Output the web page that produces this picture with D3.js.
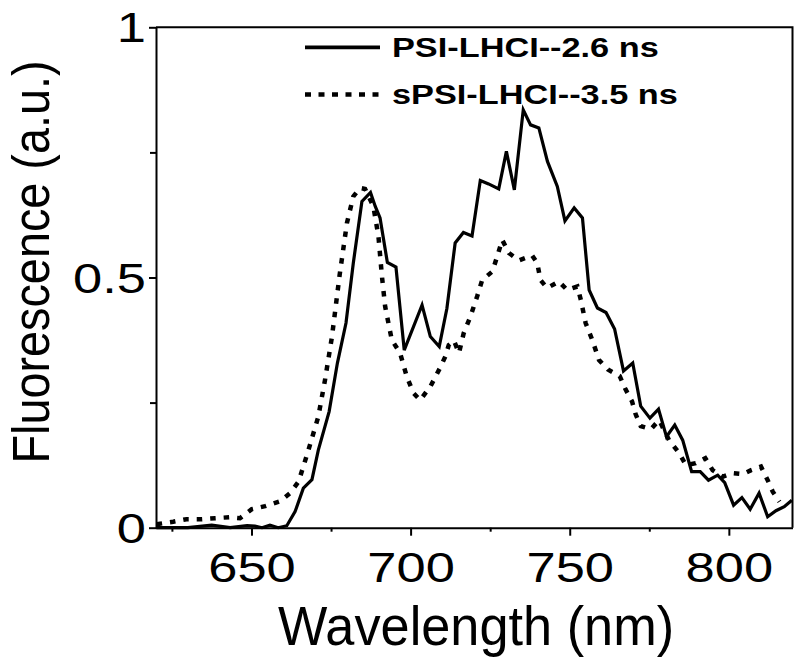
<!DOCTYPE html>
<html>
<head>
<meta charset="utf-8">
<script src="https://cdn.jsdelivr.net/npm/d3@7"></script>
<style>
  html, body { margin: 0; padding: 0; background: #fff; }
  svg { display: block; }
  text { font-family: "Liberation Sans", Arial, Helvetica, sans-serif; fill: #000; }
</style>
</head>
<body>
<svg id="chart" width="796" height="660"></svg>
<script>
// ---- data ----
const seriesNames = ["PSI-LHCI--2.6 ns", "sPSI-LHCI--3.5 ns"];

const wlPSI = [620, 630, 637.5, 643.3, 648.6, 651.1, 653.3, 655.8, 658.4, 661.1,
  663.7, 666.3, 669.0, 671.0, 674.4, 677.0, 679.7, 682.0, 684.7, 687.4,
  688.9, 690.4, 692.7, 695.4, 698.0, 703.6, 706.2, 709.0, 711.4, 714.0,
  716.6, 719.3, 721.9, 724.5, 727.7, 730.1, 732.6, 735.4, 737.7, 740.3,
  743.0, 746.1, 748.5, 751.4, 754.0, 756.1, 758.7, 761.4, 764.1, 766.9,
  769.8, 772.3, 775.2, 777.9, 780.4, 783.0, 785.5, 788.3, 791.0, 793.6,
  796.5, 798.7, 801.5, 804.1, 806.7, 809.5, 812.2, 814.8, 817.4, 819.8];
const valPSI = [0, 0, 0.005, 0, 0.004, 0.003, 0, 0.005, 0, 0.004,
  0.032, 0.079, 0.096, 0.155, 0.232, 0.329, 0.409, 0.529, 0.652, 0.670,
  0.642, 0.619, 0.530, 0.521, 0.355, 0.445, 0.382, 0.362, 0.438, 0.569,
  0.590, 0.583, 0.694, 0.687, 0.677, 0.752, 0.675, 0.835, 0.805, 0.799,
  0.732, 0.682, 0.613, 0.639, 0.619, 0.475, 0.439, 0.430, 0.397, 0.313,
  0.329, 0.243, 0.219, 0.237, 0.182, 0.205, 0.175, 0.112, 0.112, 0.095,
  0.105, 0.090, 0.045, 0.060, 0.037, 0.069, 0.022, 0.034, 0.042, 0.055];

const wlSPSI = [620.2, 625.4, 629.6, 634.3, 638.6, 643.3, 646.4, 650.1, 654.3, 659.0,
  662.1, 664.8, 667.9, 671.0, 673.1, 675.3, 677.7, 680.0, 682.0, 684.1,
  685.7, 688.3, 689.9, 691.0, 692.0, 694.1, 696.7, 698.8, 700.9, 703.0,
  706.2, 709.3, 710.9, 712.0, 713.6, 715.2, 716.7, 718.8, 720.9, 722.5,
  725.7, 727.2, 728.8, 730.9, 734.0, 738.2, 739.8, 740.8, 742.9, 746.6,
  749.2, 752.4, 753.5, 755.0, 757.1, 759.2, 762.0, 765.7, 767.5, 769.6,
  770.7, 772.3, 775.5, 778.1, 781.2, 784.4, 786.5, 789.6, 792.6, 794.9,
  798.1, 801.2, 804.4, 807.0, 810.1, 812.2, 813.8, 815.9];
const valSPSI = [0.007, 0.012, 0.017, 0.017, 0.019, 0.021, 0.019, 0.037, 0.043, 0.053,
  0.069, 0.092, 0.155, 0.222, 0.295, 0.382, 0.505, 0.609, 0.662, 0.679,
  0.677, 0.642, 0.582, 0.502, 0.442, 0.375, 0.349, 0.302, 0.269, 0.255,
  0.282, 0.320, 0.342, 0.365, 0.374, 0.349, 0.389, 0.422, 0.462, 0.495,
  0.512, 0.542, 0.575, 0.549, 0.534, 0.544, 0.529, 0.495, 0.479, 0.492,
  0.475, 0.482, 0.455, 0.409, 0.375, 0.335, 0.316, 0.303, 0.277, 0.252,
  0.227, 0.203, 0.197, 0.215, 0.175, 0.149, 0.125, 0.129, 0.139, 0.115,
  0.102, 0.109, 0.107, 0.115, 0.122, 0.095, 0.072, 0.052];

const xMajorTicks = [650, 700, 750, 800];
const xMinorTicks = [625, 675, 725, 775];
const yMajorTicks = [0, 0.5, 1];
const yMinorTicks = [0.25, 0.75];
const yTickLabels = ["0", "0.5", "1"];

// ---- layout ----
const svg = d3.select("#chart");
const L = 156, R = 792.5, T = 27.3, B = 527.7;
const x = d3.scaleLinear().domain([620, 820]).range([L, R]);
const y = d3.scaleLinear().domain([0, 1]).range([B, T]);

const TICK_FS = 43, TICK_SX = 1.22;

// frame (top & right)
svg.append("path")
  .attr("d", `M${L},${T}H${R}V${B}`)
  .attr("fill", "none").attr("stroke", "#000").attr("stroke-width", 2);

// x axis
const gx = svg.append("g").attr("transform", `translate(0,${B})`);
gx.call(d3.axisBottom(x).tickValues(xMajorTicks).tickSize(8).tickSizeOuter(0).tickPadding(12));
gx.select(".domain").attr("stroke-width", 2);
gx.selectAll(".tick line").attr("stroke-width", 2);
gx.selectAll(".tick text")
  .attr("font-size", TICK_FS)
  .attr("font-family", null)
  .attr("dy", null)
  .attr("y", 54.5)
  .attr("transform", `scale(${TICK_SX},1)`);
const gxm = svg.append("g").attr("transform", `translate(0,${B})`);
gxm.call(d3.axisBottom(x).tickValues(xMinorTicks).tickSize(4).tickFormat(""));
gxm.select(".domain").remove();
gxm.selectAll(".tick line").attr("stroke-width", 2);

// y axis
const gy = svg.append("g").attr("transform", `translate(${L},0)`);
gy.call(d3.axisLeft(y).tickValues(yMajorTicks).tickSize(7).tickSizeOuter(0).tickPadding(9)
  .tickFormat((d, i) => yTickLabels[i]));
gy.select(".domain").attr("stroke-width", 2);
gy.selectAll(".tick line").attr("stroke-width", 2);
gy.selectAll(".tick text")
  .attr("font-size", TICK_FS)
  .attr("font-family", null)
  .attr("x", -10 / TICK_SX)
  .attr("dy", "0.34em")
  .attr("transform", `scale(${TICK_SX},1)`);
const gym = svg.append("g").attr("transform", `translate(${L},0)`);
gym.call(d3.axisLeft(y).tickValues(yMinorTicks).tickSize(6).tickFormat(""));
gym.select(".domain").remove();
gym.selectAll(".tick line").attr("stroke-width", 2);

// axis titles
svg.append("text")
  .attr("text-anchor", "middle")
  .attr("font-size", 56)
  .attr("transform", `translate(476,645) scale(0.934,1)`)
  .text("Wavelength (nm)");
svg.append("text")
  .attr("text-anchor", "middle")
  .attr("font-size", 52)
  .attr("transform", `translate(49,262) rotate(-90) scale(0.9,1)`)
  .text("Fluorescence (a.u.)");

// lines
const line = d3.line().x(d => x(d[0])).y(d => y(d[1]));
const psi = wlPSI.map((w, i) => [w, valPSI[i]]);
const spsi = wlSPSI.map((w, i) => [w, valSPSI[i]]);

svg.append("path").datum(spsi)
  .attr("d", line).attr("fill", "none").attr("stroke", "#000")
  .attr("stroke-width", 4.5).attr("stroke-dasharray", "5.5,8")
  .attr("stroke-linejoin", "miter");
svg.append("path").datum(psi)
  .attr("d", line).attr("fill", "none").attr("stroke", "#000")
  .attr("stroke-width", 3.2).attr("stroke-linejoin", "miter");

// legend
const legRows = [
  { name: seriesNames[0], dash: null, sw: 3.6, ly: 47.4, ty: 57 },
  { name: seriesNames[1], dash: "6,7.5", sw: 4.5, ly: 94.6, ty: 103.5 }
];
const leg = svg.append("g");
legRows.forEach(r => {
  leg.append("line").attr("x1", 305).attr("x2", 380).attr("y1", r.ly).attr("y2", r.ly)
    .attr("stroke", "#000").attr("stroke-width", r.sw)
    .attr("stroke-dasharray", r.dash);
  leg.append("text")
    .attr("font-weight", "bold").attr("font-size", 27)
    .attr("transform", `translate(392,${r.ty}) scale(1.27,1)`)
    .text(r.name);
});
</script>
</body>
</html>
